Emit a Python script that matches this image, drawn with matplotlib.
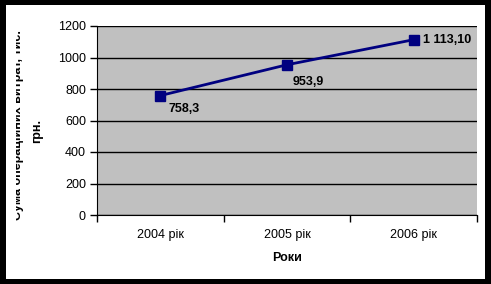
import matplotlib
matplotlib.use("Agg")
import matplotlib.pyplot as plt
from matplotlib.patches import Rectangle
from matplotlib.transforms import Bbox, TransformedBbox

categories = ["2004 рік", "2005 рік", "2006 рік"]
values = [758.3, 953.9, 1113.10]
value_labels = ["758,3", "953,9", "1 113,10"]
y_ticks = [0, 200, 400, 600, 800, 1000, 1200]
x_title = "Роки"
y_title_1 = "Сума операційних витрат, тис."
y_title_2 = "грн."

W, H = 491, 284
FS = 9
plt.rcParams['font.family'] = ['Liberation Sans', 'DejaVu Sans']
fig = plt.figure(figsize=(W / 100, H / 100), dpi=100, facecolor='black')

def fx(px):
    return px / W

def fy(py):
    return 1 - py / H

# white chart area inside black frame
fig.patches.append(Rectangle((fx(6), fy(279)), fx(485) - fx(6), fy(5) - fy(279),
                             transform=fig.transFigure, facecolor='white',
                             edgecolor='none', zorder=-10))

ax = fig.add_axes([fx(97), fy(215), fx(477) - fx(97), fy(26) - fy(215)])
ax.set_zorder(1)
ax.set_facecolor('#C0C0C0')
x = list(range(len(categories)))
ax.plot(x, values, color='#000080', lw=2, marker='s', ms=7, zorder=3, clip_on=False)

label_offsets = [(5.8, -5.2, 'top'), (4.3, -8.2, 'top'), (6.5, 0, 'center')]
for i, (v, lab) in enumerate(zip(values, value_labels)):
    dx, dy, va = label_offsets[i]
    ax.annotate(lab, (i, v), xytext=(dx, dy), textcoords='offset points',
                ha='left', va=va, fontsize=FS, fontweight='bold')

ax.set_xlim(-0.5, len(categories) - 0.5)
ax.set_ylim(0, 1200)
ax.set_yticks(y_ticks)
ax.set_yticklabels([str(t) for t in y_ticks], fontsize=FS)
ax.yaxis.grid(True, color='black', lw=1)
ax.set_axisbelow(True)

ax.set_xticks(x)
ax.set_xticklabels(categories, fontsize=FS)
ax.tick_params(axis='x', length=0, pad=10)
ax.set_xticks([-0.5, 0.5, 1.5, 2.5], minor=True)
ax.tick_params(axis='x', which='minor', length=5, width=1, color='black', direction='out')
ax.tick_params(axis='y', length=5, width=1, color='black', direction='out', pad=3)

for s in ['top', 'right']:
    ax.spines[s].set_visible(False)
ax.spines['left'].set_color('black')
ax.spines['bottom'].set_color('black')

ax.set_xlabel(x_title, fontsize=FS, fontweight='bold', labelpad=8)

t1 = fig.text(fx(18), fy(125), y_title_1, rotation=90, ha='center', va='center',
              fontsize=FS, fontweight='bold', zorder=5)
t1.set_clip_box(TransformedBbox(Bbox.from_extents(fx(16), 0, 1, 1), fig.transFigure))
t1.set_clip_on(True)
fig.text(fx(37), fy(131), y_title_2, rotation=90, ha='center', va='center',
         fontsize=FS, fontweight='bold', zorder=5)

fig.savefig('out.png', dpi=100, facecolor='black')
